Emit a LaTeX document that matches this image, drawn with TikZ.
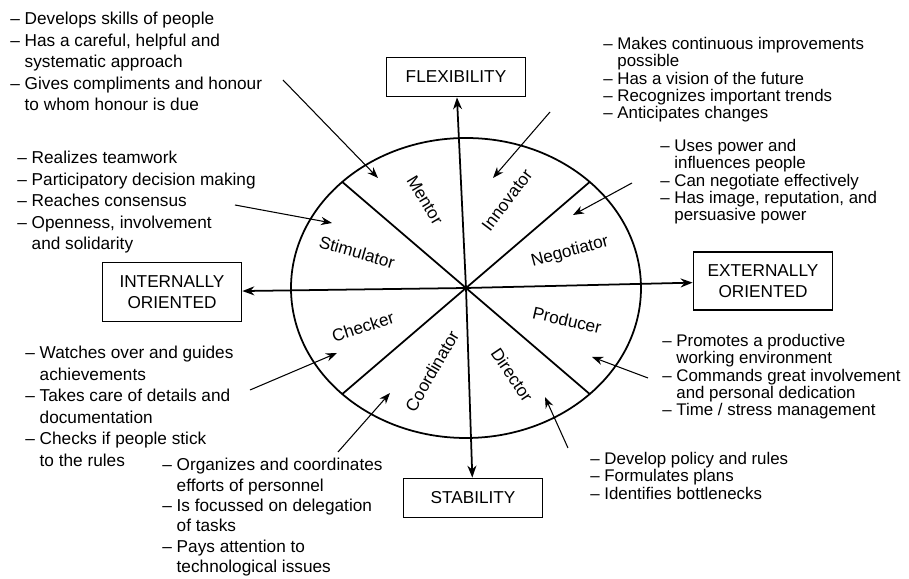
\documentclass[tikz,border=0pt]{standalone}
\usepackage{fontspec}
\setmainfont{Liberation Sans}
\usetikzlibrary{arrows.meta}

\newcommand{\hang}{\phantom{–\ }}

\begin{document}
\begin{tikzpicture}[
  font=\fontsize{9.8}{12.2}\selectfont,
  box/.style={draw, line width=1pt, minimum width=27.8mm, minimum height=7.8mm, align=center, inner sep=1pt},
  sec/.style={inner sep=1pt},
  txt/.style={align=left, anchor=north west, inner sep=0pt},
  tight/.style={txt, font=\fontsize{9.6}{9.8}\selectfont},
  axis/.style={-{Stealth[length=2.4mm]}, line width=1pt},
  ptr/.style={-{Stealth[length=2.2mm]}, semithick}]
\useasboundingbox (-9.32,-5.82) rectangle (8.86,5.76);
\coordinate (c) at (0,0);
% the wheel
\draw[line width=1pt] (c) ellipse [x radius=3.5, y radius=3];
\foreach \a in {45,135,225,315}
  \draw[line width=1pt] (c) -- (\a:3.5 and 3);
% the four poles
\node[box] (flex) at (-0.2,4.22) {FLEXIBILITY};
\node[box] (stab) at (0.14,-4.2) {STABILITY};
\node[box, minimum height=11.8mm] (inor) at (-5.88,-0.08) {INTERNALLY\\ORIENTED};
\node[box, minimum height=11.6mm] (exor) at (5.94,0.14) {EXTERNALLY\\ORIENTED};
\draw[axis] (c) -- (flex);
\draw[axis] (c) -- (stab);
\draw[axis] (c) -- (inor);
\draw[axis] (c) -- (exor);
% roles
\node[sec, rotate=-59] (mentor) at (-0.82,1.76) {Mentor};
\node[sec, rotate=53] (innov) at (0.82,1.76) {Innovator};
\node[sec, rotate=-16] (stim) at (-2.18,0.72) {Stimulator};
\node[sec, rotate=15] (negot) at (2.08,0.72) {Negotiator};
\node[sec, rotate=18] (check) at (-2.06,-0.78) {Checker};
\node[sec, rotate=-13] (prod) at (2.02,-0.64) {Producer};
\node[sec, rotate=60] (coord) at (-0.68,-1.66) {Coordinator};
\node[sec, rotate=-56] (dir) at (0.92,-1.74) {Director};
% descriptions
\node[txt] (mentorTxt) at (-9.12,5.52) {– Develops skills of people\\
  – Has a careful, helpful and\\ \hang systematic approach\\
  – Gives compliments and honour\\ \hang to whom honour is due};
\node[tight] (innovTxt) at (2.74,5.02) {– Makes continuous improvements\\
  \hang possible\\ – Has a vision of the future\\
  – Recognizes important trends\\ – Anticipates changes};
\node[tight] (negotTxt) at (3.88,2.98) {– Uses power and\\
  \hang influences people\\ – Can negotiate effectively\\
  – Has image, reputation, and\\ \hang persuasive power};
\node[txt] (stimTxt) at (-8.98,2.74) {– Realizes teamwork\\
  – Participatory decision making\\ – Reaches consensus\\
  – Openness, involvement\\ \hang and solidarity};
\node[txt] (checkTxt) at (-8.82,-1.16) {– Watches over and guides\\
  \hang achievements\\ – Takes care of details and\\
  \hang documentation\\ – Checks if people stick\\ \hang to the rules};
\node[tight] (prodTxt) at (3.92,-0.92) {– Promotes a productive\\
  \hang working environment\\ – Commands great involvement\\
  \hang and personal dedication\\ – Time / stress management};
\node[tight] (dirTxt) at (2.48,-3.28) {– Develop policy and rules\\
  – Formulates plans\\ – Identifies bottlenecks};
\node[txt, font=\fontsize{9.8}{11.6}\selectfont] (coordTxt) at (-6.08,-3.40) {– Organizes and coordinates\\
  \hang efforts of personnel\\ – Is focussed on delegation\\
  \hang of tasks\\ – Pays attention to\\ \hang technological issues};
% pointers into the sectors
\coordinate (mentorA) at (-3.66,4.16);  \coordinate (mentorB) at (-1.76,2.2);
\coordinate (innovA) at (1.68,3.52);    \coordinate (innovB) at (0.54,2.2);
\coordinate (negotA) at (3.32,2.1);     \coordinate (negotB) at (2.14,1.46);
\coordinate (stimA) at (-4.62,1.66);    \coordinate (stimB) at (-2.68,1.3);
\coordinate (checkA) at (-4.32,-2.04);  \coordinate (checkB) at (-2.58,-1.3);
\coordinate (coordA) at (-2.56,-3.28);  \coordinate (coordB) at (-1.52,-2.1);
\coordinate (dirA) at (2.04,-3.2);      \coordinate (dirB) at (1.58,-2.18);
\coordinate (prodA) at (3.64,-1.8);     \coordinate (prodB) at (2.52,-1.38);
\foreach \r in {mentor,innov,negot,stim,check,coord,dir,prod}
  \draw[ptr] (\r A) -- (\r B);
\end{tikzpicture}
\end{document}
